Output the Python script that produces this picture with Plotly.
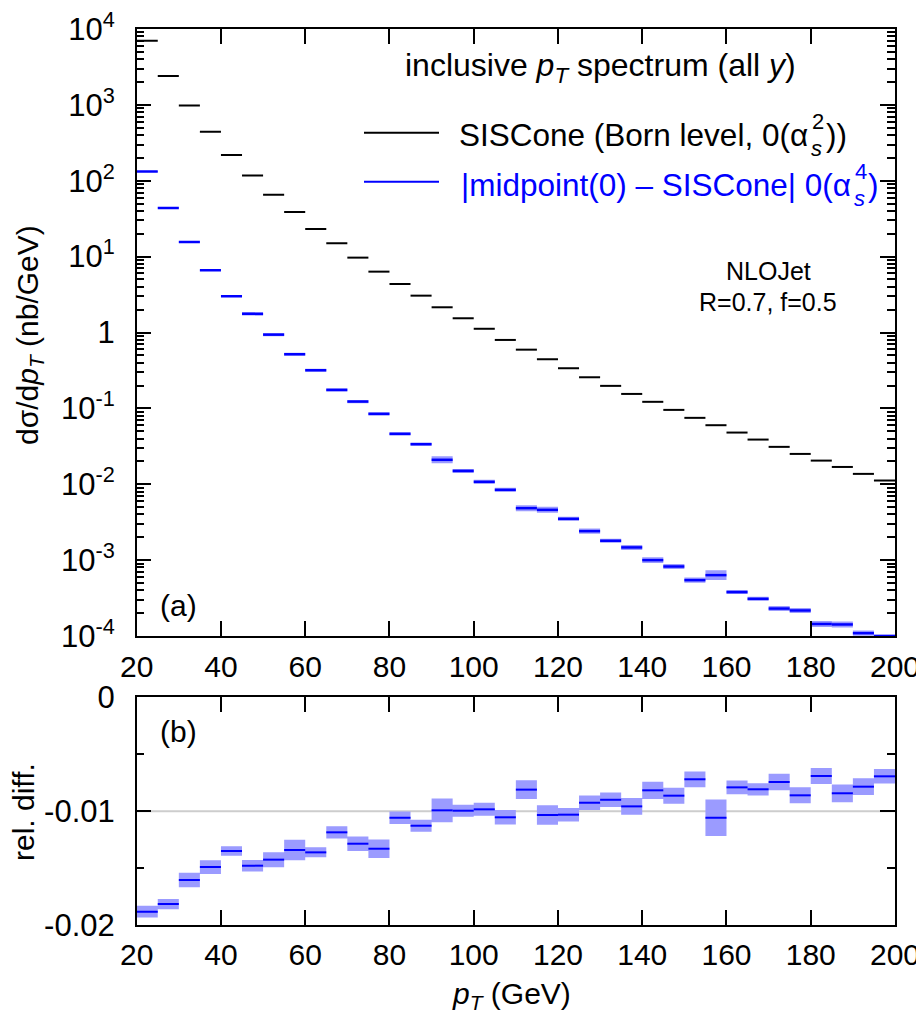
import plotly.graph_objects as go

# ---------------- data ----------------
pt_lo = [20, 25, 30, 35, 40, 45, 50, 55, 60, 65, 70, 75, 80, 85, 90, 95, 100, 105,
         110, 115, 120, 125, 130, 135, 140, 145, 150, 155, 160, 165, 170, 175, 180, 185, 190, 195]
pt_hi = [25, 30, 35, 40, 45, 50, 55, 60, 65, 70, 75, 80, 85, 90, 95, 100, 105, 110,
         115, 120, 125, 130, 135, 140, 145, 150, 155, 160, 165, 170, 175, 180, 185, 190, 195, 200]

siscone_born = [7020, 2400, 980, 444, 219, 117, 65.6, 38.8, 23.2, 15.0, 9.7, 6.34,
                4.36, 3.06, 2.15, 1.54, 1.12, 0.798, 0.594, 0.444, 0.338, 0.257, 0.198, 0.155,
                0.122, 0.0955, 0.075, 0.060, 0.048, 0.0388, 0.0311, 0.0251, 0.0205, 0.0169, 0.0137, 0.0112]

mid_minus_sis = [132, 43.9, 15.6, 6.62, 3.0, 1.76, 0.937, 0.517, 0.318, 0.175, 0.123, 0.0847,
                 0.0462, 0.0337, 0.0210, 0.0150, 0.01076, 0.00844, 0.00484, 0.0046, 0.0035, 0.00241,
                 0.00180, 0.00147, 0.00100, 0.000824, 0.000545, 0.000634, 0.000379, 0.000309,
                 0.000230, 0.000217, 0.000144, 0.000142, 0.000109, 0.0000995]
# relative uncertainty of the |midpoint - SISCone| curve
mid_minus_sis_relerr = [0.015, 0.015, 0.015, 0.015, 0.015, 0.05, 0.05, 0.05, 0.05, 0.05, 0.05, 0.05,
                        0.05, 0.05, 0.11, 0.063, 0.063, 0.063, 0.095, 0.095, 0.063, 0.08, 0.063, 0.08,
                        0.095, 0.08, 0.08, 0.16, 0.063, 0.063, 0.08, 0.08, 0.095, 0.095, 0.08, 0.063]

rel_diff = [-0.01883, -0.01816, -0.01605, -0.01491, -0.0135, -0.01479, -0.01426, -0.01341, -0.01362,
            -0.01186, -0.01286, -0.0133, -0.01058, -0.01128, -0.00993, -0.00996, -0.00984, -0.01054,
            -0.00811, -0.01034, -0.01031, -0.00926, -0.009, -0.00958, -0.00817, -0.00864, -0.0072,
            -0.01058, -0.00791, -0.00808, -0.00744, -0.00861, -0.00691, -0.00843, -0.00785, -0.00694]
rel_diff_err = [0.00051, 0.00045, 0.00063, 0.0006, 0.00042, 0.0005, 0.00066, 0.0009, 0.00044,
                0.00054, 0.00064, 0.00082, 0.00054, 0.00053, 0.00105, 0.00053, 0.00057, 0.00064,
                0.00082, 0.00085, 0.00059, 0.00064, 0.00063, 0.00073, 0.00076, 0.0007, 0.00069,
                0.00161, 0.0006, 0.00054, 0.00073, 0.0007, 0.0007, 0.00078, 0.00073, 0.00064]

x_ticks = [20, 40, 60, 80, 100, 120, 140, 160, 180, 200]
x_ticktext = ["20", "40", "60", "80", "100", "120", "140", "160", "180", "200"]
y_ticks = [1e-4, 1e-3, 1e-2, 1e-1, 1, 1e1, 1e2, 1e3, 1e4]
y_ticktext = ["10<sup>-4</sup>", "10<sup>-3</sup>", "10<sup>-2</sup>", "10<sup>-1</sup>", "1",
              "10<sup>1</sup>", "10<sup>2</sup>", "10<sup>3</sup>", "10<sup>4</sup>"]
y_minor = [m * 10.0 ** e for e in range(-4, 4) for m in range(2, 10)]
y2_ticks = [-0.02, -0.01, 0]
y2_ticktext = ["-0.02", "-0.01", "0"]
y2_minor = [-0.015, -0.005]

# ---------------- helpers ----------------
def segments(lo, hi, vals):
    xs, ys = [], []
    for a, b, v in zip(lo, hi, vals):
        xs += [a, b, None]
        ys += [v, v, None]
    return xs, ys

def boxes(lo, hi, low, high):
    xs, ys = [], []
    for a, b, l, h in zip(lo, hi, low, high):
        xs += [a, b, b, a, a, None]
        ys += [l, l, h, h, l, None]
    return xs, ys

FONT = "Liberation Sans, Arial, sans-serif"
BAND = "rgb(155,155,255)"
BLUE = "rgb(0,0,255)"

fig = go.Figure()

# top panel: bands
bx, by = boxes(pt_lo, pt_hi,
               [v / (1 + e) for v, e in zip(mid_minus_sis, mid_minus_sis_relerr)],
               [v * (1 + e) for v, e in zip(mid_minus_sis, mid_minus_sis_relerr)])
fig.add_trace(go.Scatter(x=bx, y=by, mode="lines", fill="toself", fillcolor=BAND,
                         line=dict(width=0, color=BAND), hoverinfo="skip",
                         xaxis="x", yaxis="y", showlegend=False))
sx, sy = segments(pt_lo, pt_hi, siscone_born)
fig.add_trace(go.Scatter(x=sx, y=sy, mode="lines", line=dict(color="black", width=2),
                         xaxis="x", yaxis="y", showlegend=False, connectgaps=False))
mx, my = segments(pt_lo, pt_hi, mid_minus_sis)
fig.add_trace(go.Scatter(x=mx, y=my, mode="lines", line=dict(color=BLUE, width=2.5),
                         xaxis="x", yaxis="y", showlegend=False, connectgaps=False))

# bottom panel
rbx, rby = boxes(pt_lo, pt_hi,
                 [v - e for v, e in zip(rel_diff, rel_diff_err)],
                 [v + e for v, e in zip(rel_diff, rel_diff_err)])
fig.add_trace(go.Scatter(x=rbx, y=rby, mode="lines", fill="toself", fillcolor=BAND,
                         line=dict(width=0, color=BAND), hoverinfo="skip",
                         xaxis="x2", yaxis="y2", showlegend=False))
rx, ry = segments(pt_lo, pt_hi, rel_diff)
fig.add_trace(go.Scatter(x=rx, y=ry, mode="lines", line=dict(color=BLUE, width=2),
                         xaxis="x2", yaxis="y2", showlegend=False, connectgaps=False))

W, H = 924, 1014
OFF = 8  # page body margin of the html page
def px(x):
    return (x - OFF) / W
def py(y):
    return 1 - (y - OFF) / H

xd = [px(136.7), px(895)]
axis_common = dict(showline=True, linecolor="black", linewidth=1.5, mirror="ticks",
                   ticks="inside", ticklen=15, tickwidth=1.5, tickcolor="black",
                   showgrid=False, zeroline=False, automargin=False,
                   ticklabeloverflow="allow")

fig.update_layout(
    width=W, height=H, margin=dict(l=0, r=0, t=0, b=0, pad=0, autoexpand=False),
    paper_bgcolor="white", plot_bgcolor="white",
    font=dict(family=FONT, color="black"),
    xaxis=dict(domain=xd, anchor="y", range=[20, 200], tickvals=x_ticks, ticktext=x_ticktext,
               tickfont=dict(size=30), ticklabelstandoff=3, **axis_common),
    yaxis=dict(domain=[py(636), py(29)], anchor="x", type="log", range=[-4, 4],
               tickvals=y_ticks, ticktext=y_ticktext, tickfont=dict(size=31),
               ticklabelstandoff=14,
               minor=dict(tickvals=y_minor, ticks="inside", ticklen=8, tickwidth=1.5,
                          tickcolor="black", showgrid=False),
               **axis_common),
    xaxis2=dict(domain=xd, anchor="y2", range=[20, 200], tickvals=x_ticks, ticktext=x_ticktext,
                tickfont=dict(size=30), ticklabelstandoff=2, **axis_common),
    yaxis2=dict(domain=[py(925), py(697.3)], anchor="x2", range=[-0.02, 0],
                tickvals=y2_ticks, ticktext=y2_ticktext, tickfont=dict(size=31),
                ticklabelstandoff=14,
                minor=dict(tickvals=y2_minor, ticks="inside", ticklen=8, tickwidth=1.5,
                           tickcolor="black", showgrid=False),
                **axis_common),
)

# reference line at -0.01
fig.add_shape(type="line", xref="x2", yref="y2", x0=20, x1=200, y0=-0.01, y1=-0.01,
              line=dict(color="rgb(205,205,205)", width=2), layer="below")

# legend lines
fig.add_shape(type="line", xref="paper", yref="paper", x0=px(364), x1=px(439),
              y0=py(132.7), y1=py(132.7), line=dict(color="black", width=2))
fig.add_shape(type="line", xref="paper", yref="paper", x0=px(364), x1=px(439),
              y0=py(181.7), y1=py(181.7), line=dict(color=BLUE, width=2))

def ann(text, x, y, size, xanchor="left", color="black", angle=0, yanchor="middle"):
    fig.add_annotation(text=text, x=px(x), y=py(y), xref="paper", yref="paper",
                       xanchor=xanchor, yanchor=yanchor, showarrow=False, textangle=angle,
                       font=dict(family=FONT, size=size, color=color))

ann("inclusive <i>p</i><sub><i>T</i></sub> spectrum (all <i>y</i>)", 403, 68, 32)

# black legend label with stacked sub/superscript
ann("SISCone (Born level, 0(α", 810, 135, 31.5, xanchor="right")
ann("<i>s</i>", 816, 148, 22, xanchor="center")
ann("2", 818, 121, 22, xanchor="center")
ann("))", 824, 135, 31.5)

# blue legend label
ann("|midpoint(0) – SISCone| 0(α", 853, 185, 31.5, xanchor="right", color=BLUE)
ann("<i>s</i>", 859, 198, 22, xanchor="center", color=BLUE)
ann("4", 861, 171, 22, xanchor="center", color=BLUE)
ann(")", 866, 185, 31.5, color=BLUE)

ann("NLOJet", 768, 271, 25, xanchor="center")
ann("R=0.7, f=0.5", 768, 302, 25, xanchor="center")
ann("(a)", 158, 605, 30)
ann("(b)", 158, 731, 30)

ann("dσ/d<i>p</i><sub><i>T</i></sub> (nb/GeV)", 29, 335, 30, xanchor="center", angle=-90)
ann("rel. diff.", 23, 812, 30, xanchor="center", angle=-90)
ann("<i>p</i><sub><i>T</i></sub> (GeV)", 512, 995, 30, xanchor="center")

fig.write_html("out.html")
